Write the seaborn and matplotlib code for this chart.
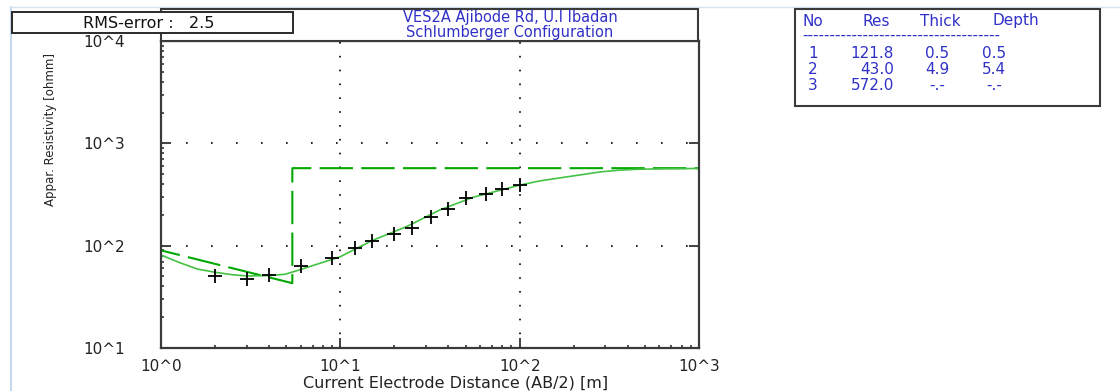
import matplotlib
matplotlib.use("Agg")
import matplotlib.pyplot as plt
import seaborn as sns
import pandas as pd
from matplotlib.patches import Rectangle
from matplotlib.lines import Line2D
from matplotlib.ticker import FixedLocator, FixedFormatter, LogLocator, NullFormatter

# ---------------- data ----------------
ab2 = [2, 3, 4, 6, 9, 12, 15, 20, 25, 32, 40, 50, 65, 80, 100]
rho_obs = [51, 47, 52, 63, 75, 95, 111, 129, 148, 190, 228, 291, 320, 358, 392]

curve_x = [1.0, 1.25, 1.6, 2.0, 2.5, 3.0, 4.0, 4.9, 5.3, 6.1, 10, 15, 23.5, 36,
           55, 100, 130, 280, 350, 450, 690, 1000]
curve_y = [81, 69, 59, 55, 52, 50.6, 51, 52.5, 54.6, 59, 78, 112, 154, 224,
           297, 390, 430, 525, 545, 558, 565, 568]

layer_no = ["1", "2", "3"]
layer_res = [121.8, 43.0, 572.0]
layer_thick = ["0.5", "4.9", "-.-"]
layer_depth = ["0.5", "5.4", "-.-"]
depth_vals = [0.5, 5.4]
x_end = 1000

xtick_vals = [1, 10, 100, 1000]
xtick_labels = ["10^0", "10^1", "10^2", "10^3"]
ytick_vals = [10, 100, 1000, 10000]
ytick_labels = ["10^1", "10^2", "10^3", "10^4"]

title_lines = "VES2A Ajibode Rd, U.I Ibadan\nSchlumberger Configuration"
rms_text = "RMS-error :   2.5"
xlabel = "Current Electrode Distance (AB/2) [m]"
ylabel = "Appar. Resistivity [ohmm]"
table_header = ["No", "Res", "Thick", "Depth"]
table_rule = "-" * 36

# model line (as drawn by the program)
model_x = [depth_vals[0], depth_vals[1], depth_vals[1], x_end]
model_y = [layer_res[0], layer_res[1], layer_res[2], layer_res[2]]

# ---------------- style ----------------
sns.set_style("white")
plt.rcParams["font.family"] = ["DejaVu Sans"]

W, H = 1120, 391
fig = plt.figure(figsize=(W / 100, H / 100), dpi=100)
fig.patch.set_facecolor("white")


def fx(x):
    return x / W


def fy(y):
    return 1 - y / H


ax_l, ax_r, ax_t, ax_b = 161, 699, 41, 348
ax = fig.add_axes([fx(ax_l), fy(ax_b), fx(ax_r - ax_l), (ax_b - ax_t) / H])
ax.set_facecolor("white")

ax.set_xscale("log")
ax.set_yscale("log")

blue = "#3030c8"
green_dash = "#00a800"
green_solid = "#44c244"

sns.lineplot(x=model_x, y=model_y, ax=ax, color=green_dash, sort=False,
             estimator=None, linewidth=1.5, linestyle=(0, (16, 4)))
sns.lineplot(x=curve_x, y=curve_y, ax=ax, color=green_solid, sort=False,
             estimator=None, linewidth=1.2)
sns.scatterplot(x=ab2, y=rho_obs, ax=ax, marker="+", s=90, color="black",
                linewidth=1.3, zorder=5)

ax.set_xlim(1, 1000)
ax.set_ylim(10, 10000)

ax.xaxis.set_major_locator(FixedLocator(xtick_vals))
ax.xaxis.set_major_formatter(FixedFormatter(xtick_labels))
ax.yaxis.set_major_locator(FixedLocator(ytick_vals))
ax.yaxis.set_major_formatter(FixedFormatter(ytick_labels))
ax.xaxis.set_minor_locator(LogLocator(base=10, subs=range(2, 10)))
ax.yaxis.set_minor_locator(LogLocator(base=10, subs=range(2, 10)))
ax.xaxis.set_minor_formatter(NullFormatter())
ax.yaxis.set_minor_formatter(NullFormatter())

ax.tick_params(axis="x", which="major", direction="in", length=7, width=1.3,
               color="#333333", labelsize=11, pad=8, bottom=True, top=False)
ax.tick_params(axis="x", which="minor", direction="in", length=2.5, width=1.2,
               color="#333333", bottom=True, top=False)
ax.tick_params(axis="y", which="major", direction="in", length=7, width=1.3,
               color="#333333", labelsize=11, pad=26, left=True, right=True)
ax.tick_params(axis="y", which="minor", direction="in", length=2.5, width=1.2,
               color="#333333", left=True, right=False)
for lab in ax.get_xticklabels() + ax.get_yticklabels():
    lab.set_color("#222222")

# sparse dotted grid
ax.xaxis.grid(True, which="major", color="black", linestyle=(0, (1, 7.3)), linewidth=1.2)
ax.yaxis.grid(True, which="major", color="black", linestyle=(0, (1, 14)), linewidth=1.2)
ax.set_axisbelow(True)

for s in ax.spines.values():
    s.set_color("#3a3a3a")
    s.set_linewidth(1.6)
    s.set_visible(True)

ax.set_xlabel(xlabel, fontsize=11.5, color="#222222")
ax.xaxis.set_label_coords(0.548, -0.09)
ax.xaxis.label.set_va("top")
ax.set_ylabel(ylabel, fontsize=8.5, color="#222222")
ax.yaxis.set_label_coords(-0.193, 0.713)

# ---------------- title box ----------------
fig.add_artist(Rectangle((fx(161), fy(41)), fx(698 - 161), (41 - 9) / H,
                         transform=fig.transFigure, facecolor="white",
                         edgecolor="#3a3a3a", linewidth=1.5, zorder=3))
fig.text(fx(510), fy(25), title_lines, ha="center", va="center",
         fontsize=10.5, color=blue, linespacing=1.0, zorder=4)

# ---------------- RMS box ----------------
fig.add_artist(Rectangle((fx(12), fy(33)), fx(293 - 12), (33 - 12) / H,
                         transform=fig.transFigure, facecolor="white",
                         edgecolor="#2a2a2a", linewidth=1.4, zorder=6))
fig.text(fx(149), fy(23), rms_text, ha="center", va="center",
         fontsize=11.5, color="#111111", zorder=7)

# ---------------- layer table ----------------
fig.add_artist(Rectangle((fx(795), fy(106)), fx(1100 - 795), (106 - 9) / H,
                         transform=fig.transFigure, facecolor="white",
                         edgecolor="#3a3a3a", linewidth=1.5, zorder=3))
hdr_x = [803, 862, 920, 992]
for hx, h in zip(hdr_x, table_header):
    fig.text(fx(hx), fy(21), h, ha="left", va="center", fontsize=11,
             color=blue, zorder=4)
fig.text(fx(802), fy(35), table_rule, ha="left", va="center", fontsize=11,
         color=blue, zorder=4)
row_y = [53, 69, 86]
for ry, n, r, t, d in zip(row_y, layer_no, layer_res, layer_thick, layer_depth):
    fig.text(fx(808), fy(ry), n, ha="left", va="center", fontsize=11, color=blue, zorder=4)
    fig.text(fx(894), fy(ry), f"{r:.1f}", ha="right", va="center", fontsize=11, color=blue, zorder=4)
    fig.text(fx(937), fy(ry), t, ha="center", va="center", fontsize=11, color=blue, zorder=4)
    fig.text(fx(994), fy(ry), d, ha="center", va="center", fontsize=11, color=blue, zorder=4)

# window border decoration
fig.add_artist(Line2D([fx(11), fx(11)], [fy(7), 0], transform=fig.transFigure,
                      color="#c6d8f0", linewidth=1.5))
fig.add_artist(Line2D([fx(11), 1], [fy(7), fy(7)], transform=fig.transFigure,
                      color="#d6e2f2", linewidth=1.0))

fig.savefig("out.png", dpi=100)
